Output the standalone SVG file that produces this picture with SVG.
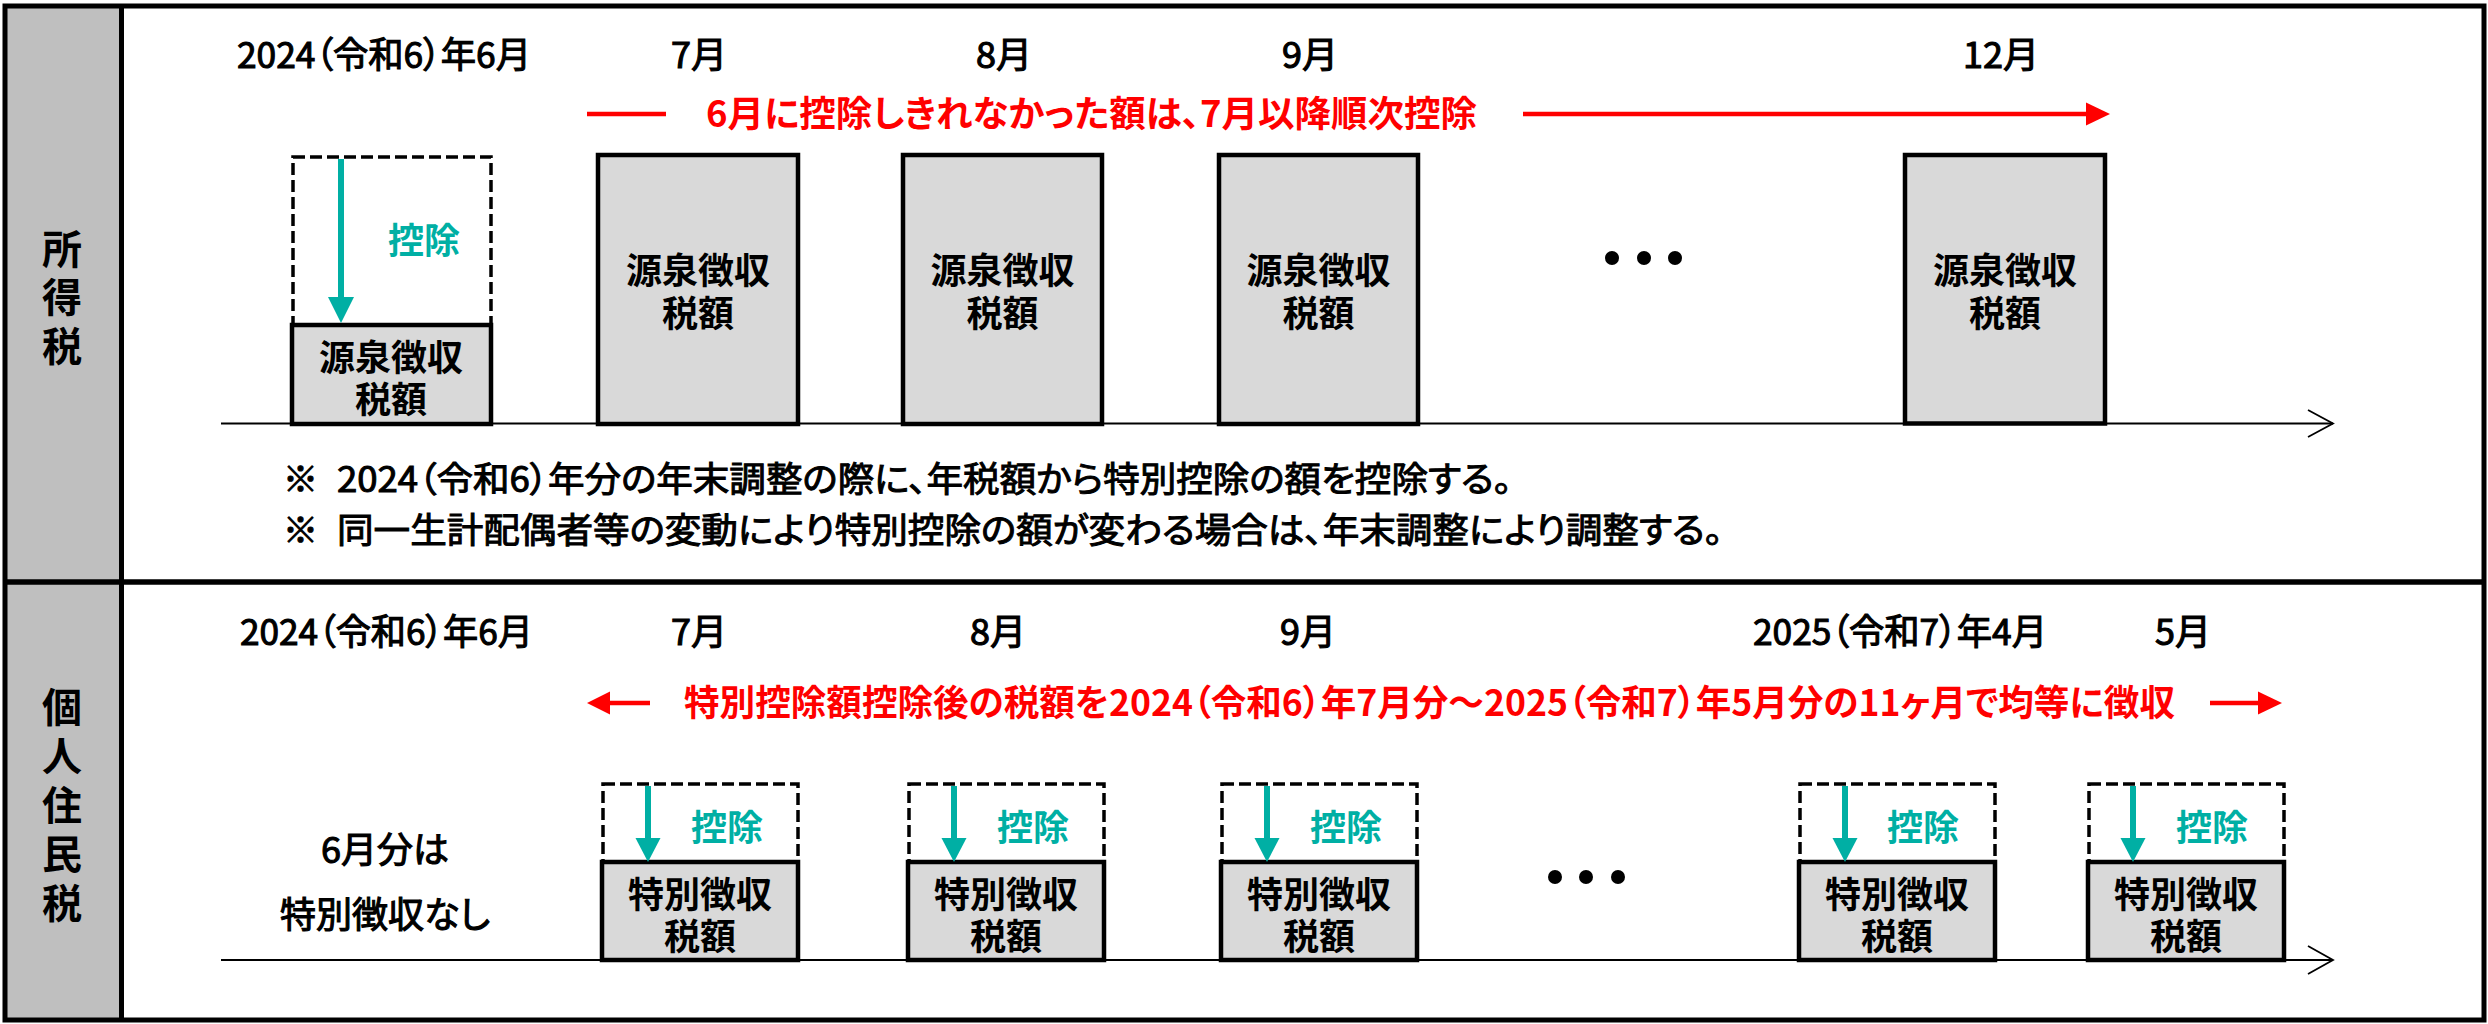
<svg xmlns="http://www.w3.org/2000/svg" width="2488" height="1024" viewBox="0 0 2488 1024">
<defs>
<style>
text{font-family:"Noto Sans CJK JP","Noto Sans",sans-serif;font-feature-settings:"palt";}
.lbl{font-size:36px;font-weight:400;fill:#000;stroke:#000;stroke-width:1.1;}
.note{font-size:35px;font-weight:400;fill:#000;stroke:#000;stroke-width:1;}
.box{font-size:36px;font-weight:700;fill:#000;text-anchor:middle;}
.red{font-size:36px;font-weight:700;fill:#FF0000;}
.teal{font-size:36px;font-weight:700;fill:#00AFA4;text-anchor:middle;}
.vert{font-size:40px;font-weight:700;fill:#000;text-anchor:middle;}
.solid{fill:#D9D9D9;stroke:#000;stroke-width:4.5;}
.dash{fill:none;stroke:#000;stroke-width:3.5;stroke-dasharray:12 5;}
.tl{stroke:#000;stroke-width:2;fill:none;}
.tlh{stroke:#000;stroke-width:1.8;fill:none;}
.rl{stroke:#FF0000;stroke-width:4.5;fill:none;}
.rh{fill:#FF0000;}
.ts{stroke:#00AFA4;stroke-width:6;fill:none;}
.th{fill:#00AFA4;}
</style>
</defs>
<rect width="2488" height="1024" fill="#fff"/>
<g id="frame">
<rect x="5" y="6" width="116.5" height="1014" fill="#BFBFBF"/>
<rect x="5" y="6" width="2479" height="1014" fill="none" stroke="#000" stroke-width="5"/>
<line x1="121.5" y1="6" x2="121.5" y2="1020" stroke="#000" stroke-width="5"/>
<line x1="5" y1="582" x2="2484" y2="582" stroke="#000" stroke-width="5.5"/>
</g>
<g id="label-income-tax">
<text class="vert"><tspan x="62" y="264">所</tspan><tspan x="62" y="312">得</tspan><tspan x="62" y="361">税</tspan></text>
</g>
<g id="label-resident-tax">
<text class="vert"><tspan x="62" y="722">個</tspan><tspan x="62" y="771">人</tspan><tspan x="62" y="820">住</tspan><tspan x="62" y="869">民</tspan><tspan x="62" y="918">税</tspan></text>
</g>
<g id="connectors">
<line class="tl" x1="221" y1="423.5" x2="2333" y2="423.5"/>
<polyline class="tlh" points="2308,410 2333,423.5 2308,437"/>
<line class="tl" x1="221" y1="960" x2="2333" y2="960"/>
<polyline class="tlh" points="2308,946 2333,960 2308,974"/>
<line class="rl" x1="587" y1="114" x2="666" y2="114"/>
<line class="rl" x1="1523" y1="114" x2="2088" y2="114"/>
<polygon class="rh" points="2086,102.5 2110,114 2086,125.5"/>
<line class="rl" x1="608" y1="703" x2="650" y2="703"/>
<polygon class="rh" points="610,691.5 587,703 610,714.5"/>
<line class="rl" x1="2210" y1="703" x2="2260" y2="703"/>
<polygon class="rh" points="2258,691.5 2282,703 2258,714.5"/>
</g>
<g id="top-labels">
<text class="lbl" x="237" y="68" textLength="294" lengthAdjust="spacingAndGlyphs">2024（令和6）年6月</text>
<text class="lbl" x="699" y="68" text-anchor="middle">7月</text>
<text class="lbl" x="1004" y="68" text-anchor="middle">8月</text>
<text class="lbl" x="1310" y="68" text-anchor="middle">9月</text>
<text class="lbl" x="2001" y="68" text-anchor="middle">12月</text>
</g>
<g id="top-message">
<text class="red" x="706" y="127" textLength="771" lengthAdjust="spacingAndGlyphs">6月に控除しきれなかった額は、7月以降順次控除</text>
</g>
<g id="it-jun">
<rect class="dash" x="293" y="157" width="198" height="168"/>
<rect class="solid" x="292" y="325" width="199" height="99"/>
<line class="ts" x1="341" y1="159" x2="341" y2="299"/>
<polygon class="th" points="328,297 354,297 341,323"/>
<text class="teal" x="424" y="254">控除</text>
<text class="box"><tspan x="391" y="371">源泉徴収</tspan><tspan x="391" y="413">税額</tspan></text>
</g>
<g id="it-jul">
<rect class="solid" x="598" y="155" width="200" height="269"/>
<text class="box"><tspan x="698" y="284">源泉徴収</tspan><tspan x="698" y="327">税額</tspan></text>
</g>
<g id="it-aug">
<rect class="solid" x="903" y="155" width="199" height="269"/>
<text class="box"><tspan x="1002.5" y="284">源泉徴収</tspan><tspan x="1002.5" y="327">税額</tspan></text>
</g>
<g id="it-sep">
<rect class="solid" x="1219" y="155" width="199" height="269"/>
<text class="box"><tspan x="1318.5" y="284">源泉徴収</tspan><tspan x="1318.5" y="327">税額</tspan></text>
</g>
<g id="it-dots">
<circle cx="1612" cy="258" r="7"/>
<circle cx="1644" cy="258" r="7"/>
<circle cx="1675" cy="258" r="7"/>
</g>
<g id="it-dec">
<rect class="solid" x="1905" y="155" width="200" height="268.5"/>
<text class="box"><tspan x="2005" y="284">源泉徴収</tspan><tspan x="2005" y="327">税額</tspan></text>
</g>
<g id="notes">
<text class="note" y="492"><tspan x="283">※</tspan><tspan x="337" textLength="1175" lengthAdjust="spacingAndGlyphs">2024（令和6）年分の年末調整の際に、年税額から特別控除の額を控除する。</tspan></text>
<text class="note" y="543"><tspan x="283">※</tspan><tspan x="337" textLength="1386" lengthAdjust="spacingAndGlyphs">同一生計配偶者等の変動により特別控除の額が変わる場合は、年末調整により調整する。</tspan></text>
</g>
<g id="bottom-labels">
<text class="lbl" x="240" y="645" textLength="293" lengthAdjust="spacingAndGlyphs">2024（令和6）年6月</text>
<text class="lbl" x="699" y="645" text-anchor="middle">7月</text>
<text class="lbl" x="998" y="645" text-anchor="middle">8月</text>
<text class="lbl" x="1308" y="645" text-anchor="middle">9月</text>
<text class="lbl" x="1753" y="645" textLength="294" lengthAdjust="spacingAndGlyphs">2025（令和7）年4月</text>
<text class="lbl" x="2183" y="645" text-anchor="middle">5月</text>
</g>
<g id="bottom-message">
<text class="red" x="684" y="716" textLength="1491" lengthAdjust="spacingAndGlyphs">特別控除額控除後の税額を2024（令和6）年7月分～2025（令和7）年5月分の11ヶ月で均等に徴収</text>
</g>
<g id="rt-jun">
<text class="lbl" text-anchor="middle"><tspan x="385" y="863">6月分は</tspan><tspan x="385" y="928">特別徴収なし</tspan></text>
</g>
<g id="rt-jul">
<rect class="dash" x="603" y="784" width="195" height="78"/>
<rect class="solid" x="602" y="862" width="196" height="98"/>
<line class="ts" x1="648" y1="786" x2="648" y2="840"/>
<polygon class="th" points="635.5,838 660.5,838 648,862"/>
<text class="teal" x="727" y="841">控除</text>
<text class="box"><tspan x="700" y="908">特別徴収</tspan><tspan x="700" y="950">税額</tspan></text>
</g>
<g id="rt-aug">
<rect class="dash" x="909" y="784" width="195" height="78"/>
<rect class="solid" x="908" y="862" width="196" height="98"/>
<line class="ts" x1="954" y1="786" x2="954" y2="840"/>
<polygon class="th" points="941.5,838 966.5,838 954,862"/>
<text class="teal" x="1033" y="841">控除</text>
<text class="box"><tspan x="1006" y="908">特別徴収</tspan><tspan x="1006" y="950">税額</tspan></text>
</g>
<g id="rt-sep">
<rect class="dash" x="1222" y="784" width="195" height="78"/>
<rect class="solid" x="1221" y="862" width="196" height="98"/>
<line class="ts" x1="1267" y1="786" x2="1267" y2="840"/>
<polygon class="th" points="1254.5,838 1279.5,838 1267,862"/>
<text class="teal" x="1346" y="841">控除</text>
<text class="box"><tspan x="1319" y="908">特別徴収</tspan><tspan x="1319" y="950">税額</tspan></text>
</g>
<g id="rt-dots">
<circle cx="1555" cy="877" r="7"/>
<circle cx="1586" cy="877" r="7"/>
<circle cx="1618" cy="877" r="7"/>
</g>
<g id="rt-apr">
<rect class="dash" x="1800" y="784" width="195" height="78"/>
<rect class="solid" x="1799" y="862" width="196" height="98"/>
<line class="ts" x1="1845" y1="786" x2="1845" y2="840"/>
<polygon class="th" points="1832.5,838 1857.5,838 1845,862"/>
<text class="teal" x="1923" y="841">控除</text>
<text class="box"><tspan x="1897" y="908">特別徴収</tspan><tspan x="1897" y="950">税額</tspan></text>
</g>
<g id="rt-may">
<rect class="dash" x="2089" y="784" width="195" height="78"/>
<rect class="solid" x="2088" y="862" width="196" height="98"/>
<line class="ts" x1="2133" y1="786" x2="2133" y2="840"/>
<polygon class="th" points="2120.5,838 2145.5,838 2133,862"/>
<text class="teal" x="2212" y="841">控除</text>
<text class="box"><tspan x="2186" y="908">特別徴収</tspan><tspan x="2186" y="950">税額</tspan></text>
</g>
</svg>
